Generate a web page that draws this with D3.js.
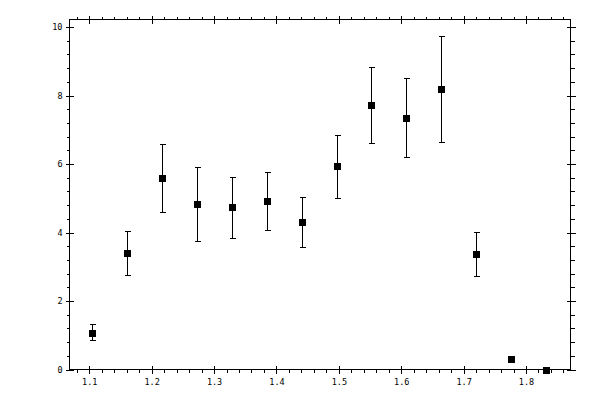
<!DOCTYPE html>
<html>
<head>
<meta charset="utf-8">
<script src="https://cdn.jsdelivr.net/npm/d3@7"></script>
<style>
  body { margin: 0; background: #fff; }
  .axis text { font-family: "DejaVu Sans Mono", monospace; font-size: 8.5px; fill: #000; }
  .axis path, .axis line { stroke: #000; shape-rendering: crispEdges; }
</style>
</head>
<body>
<div class="chart"></div>
<script>
// values
const xValues = [1.105, 1.161, 1.217, 1.273, 1.329, 1.385, 1.441, 1.497, 1.552, 1.608, 1.664, 1.720, 1.776, 1.832];
const yValues = [1.08, 3.39, 5.58, 4.82, 4.74, 4.91, 4.30, 5.94, 7.72, 7.34, 8.19, 3.37, 0.31, 0.00];
const yHigh   = [1.32, 4.03, 6.58, 5.91, 5.62, 5.76, 5.03, 6.84, 8.83, 8.50, 9.73, 4.01, 0.34, 0.00];
const yLow    = [0.85, 2.75, 4.59, 3.74, 3.83, 4.07, 3.57, 5.00, 6.61, 6.20, 6.64, 2.72, 0.28, 0.00];
const xMajorTicks = [1.1, 1.2, 1.3, 1.4, 1.5, 1.6, 1.7, 1.8];
const yMajorTicks = [0, 2, 4, 6, 8, 10];

const width = 600;
const height = 400;
const plotLeft = 69.5, plotRight = 570.5, plotTop = 19.5, plotBottom = 369.5;

const svg = d3.select(".chart").append("svg")
    .attr("width", width)
    .attr("height", height);

const xScale = d3.scaleLinear()
    .domain([1.0683, 1.8713])
    .range([plotLeft, plotRight]);
const yScale = d3.scaleLinear()
    .domain([0, 10.22])
    .range([plotBottom, plotTop]);

// minor ticks every 0.02 on x and 0.4 on y
const xMinor = d3.range(1.08, 1.87, 0.02).map(d => +d.toFixed(2));
const yMinor = d3.range(0, 10.21, 0.4).map(d => +d.toFixed(1));

// frame
svg.append("rect")
    .attr("x", plotLeft).attr("y", plotTop)
    .attr("width", plotRight - plotLeft).attr("height", plotBottom - plotTop)
    .attr("fill", "none").attr("stroke", "#000")
    .attr("shape-rendering", "crispEdges");

// helper: draws an axis with no domain line
const drawAxis = (axis, tx, ty) => {
    const g = svg.append("g")
        .attr("class", "axis")
        .attr("transform", `translate(${tx},${ty})`)
        .call(axis);
    g.select(".domain").remove();
    return g;
};

// bottom
drawAxis(d3.axisBottom(xScale).tickValues(xMinor).tickSize(3).tickFormat(""), 0, plotBottom);
drawAxis(d3.axisBottom(xScale).tickValues(xMajorTicks).tickSize(4).tickPadding(5).tickFormat(d3.format(".1f")), 0, plotBottom);
drawAxis(d3.axisTop(xScale).tickValues(xMajorTicks).tickSize(4).tickFormat(""), 0, plotBottom);
// top
drawAxis(d3.axisTop(xScale).tickValues(xMinor).tickSize(3).tickFormat(""), 0, plotTop);
drawAxis(d3.axisTop(xScale).tickValues(xMajorTicks).tickSize(4).tickFormat(""), 0, plotTop);
drawAxis(d3.axisBottom(xScale).tickValues(xMajorTicks).tickSize(4).tickFormat(""), 0, plotTop);
// left
drawAxis(d3.axisLeft(yScale).tickValues(yMinor).tickSize(3).tickFormat(""), plotLeft, 0);
drawAxis(d3.axisLeft(yScale).tickValues(yMajorTicks).tickSize(4).tickPadding(3).tickFormat(d3.format("d")), plotLeft, 0);
drawAxis(d3.axisRight(yScale).tickValues(yMajorTicks).tickSize(4).tickFormat(""), plotLeft, 0);
// right
drawAxis(d3.axisRight(yScale).tickValues(yMinor).tickSize(4).tickFormat(""), plotRight, 0);
drawAxis(d3.axisRight(yScale).tickValues(yMajorTicks).tickSize(5).tickFormat(""), plotRight, 0);
drawAxis(d3.axisLeft(yScale).tickValues(yMajorTicks).tickSize(4).tickFormat(""), plotRight, 0);

const data = xValues.map((x, i) => ({ x, y: yValues[i], hi: yHigh[i], lo: yLow[i] }));
const px = d => Math.round(xScale(d.x)) + 0.5;

const bars = svg.append("g")
    .attr("stroke", "#000")
    .attr("shape-rendering", "crispEdges");

// error bar stems
bars.selectAll(".stem")
    .data(data.filter(d => d.hi > d.lo))
    .enter().append("line")
    .attr("x1", px).attr("x2", px)
    .attr("y1", d => yScale(d.hi))
    .attr("y2", d => yScale(d.lo));

// caps
["hi", "lo"].forEach(k => {
    bars.selectAll(".cap-" + k)
        .data(data.filter(d => d.hi > d.lo))
        .enter().append("line")
        .attr("x1", d => px(d) - 3).attr("x2", d => px(d) + 3)
        .attr("y1", d => Math.round(yScale(d[k])) + 0.5)
        .attr("y2", d => Math.round(yScale(d[k])) + 0.5);
});

// square markers
svg.append("g").selectAll("rect")
    .data(data)
    .enter().append("rect")
    .attr("x", d => Math.round(xScale(d.x)) - 3)
    .attr("y", d => Math.round(yScale(d.y)) - 3)
    .attr("width", 7)
    .attr("height", 7)
    .attr("fill", "#000")
    .attr("shape-rendering", "crispEdges");
</script>
</body>
</html>
